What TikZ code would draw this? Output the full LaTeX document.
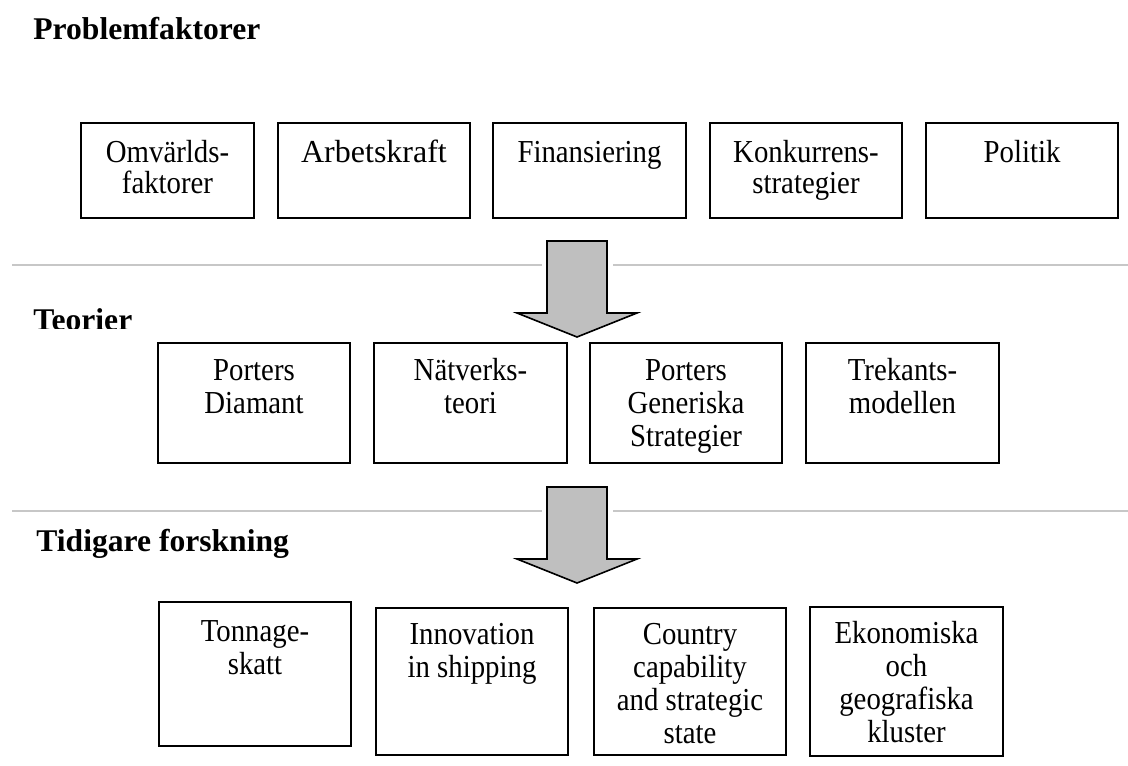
\documentclass[tikz,border=0pt]{standalone}
\usepackage{fontspec}
\setmainfont{Liberation Serif}
\newfontfamily\narrowserif{Liberation Serif}[FakeStretch=0.9]
\newcommand{\bt}[5]{\parbox[c][#2pt][t]{#1pt}{\centering\narrowserif\fontsize{16}{#4}\selectfont\rule{0pt}{#3pt}#5\par}}
\tikzset{
  box/.style={draw, line width=1pt, inner sep=0pt, anchor=north west},
  head/.style={font=\fontsize{15.8}{18}\selectfont\bfseries, inner sep=0pt, anchor=base west},
  sepline/.style={draw=black!22, line width=1pt},
  blockarrow/.style={fill=black!25, draw=black, line width=0.8pt, line join=miter},
}
\begin{document}
\begin{tikzpicture}[x=0.5pt,y=-0.5pt]
\useasboundingbox (0,0) rectangle (1128,765);

% headings
\node[head] (h1) at (33,40) {Problemfaktorer};
\begin{scope}
  \clip (0,290) rectangle (300,328.5);
  \node[head] (h2) at (33,330) {Teorier};
\end{scope}
\node[head] (h3) at (36,551) {Tidigare forskning};

% separator lines
\coordinate (s1a) at (12,265);   \coordinate (s1b) at (542,265);
\coordinate (s1c) at (613,265);  \coordinate (s1d) at (1128,265);
\coordinate (s2a) at (12,511);   \coordinate (s2b) at (542,511);
\coordinate (s2c) at (613,511);  \coordinate (s2d) at (1128,511);
\draw[sepline] (s1a) -- (s1b) (s1c) -- (s1d);
\draw[sepline] (s2a) -- (s2b) (s2c) -- (s2d);

% row 1
\node[box] (omv)  at (80,122)  {\bt{86.5}{47.5}{20}{15.5}{Omvärlds-\\faktorer}};
\node[box] (arb)  at (277,122) {\bt{96}{47.5}{20}{15.5}{\normalfont\fontsize{16}{17}\selectfont Arbetskraft}};
\node[box] (fin)  at (492,122) {\bt{96.5}{47.5}{19.5}{15.5}{Finansiering}};
\node[box] (konk) at (709,122) {\bt{96}{47.5}{19.5}{15.5}{Konkurrens-\\strategier}};
\node[box] (pol)  at (925,122) {\bt{96}{47.5}{19.5}{15.5}{Politik}};

% arrow 1
\draw[blockarrow] (547,241) -- (607,241) -- (607,313) -- (637,313) -- (577,337) -- (517,313) -- (547,313) -- cycle;

% row 2
\node[box] (pd) at (157,342) {\bt{96}{60}{18.5}{16.5}{Porters\\Diamant}};
\node[box] (nv) at (373,342) {\bt{96.5}{60}{18.5}{16.5}{Nätverks-\\teori}};
\node[box] (pg) at (589,342) {\bt{96}{60}{18.5}{16.5}{Porters\\Generiska\\Strategier}};
\node[box] (tk) at (805,342) {\bt{96.5}{60}{18.5}{16.5}{Trekants-\\modellen}};

% arrow 2
\draw[blockarrow] (547,487) -- (607,487) -- (607,559) -- (637,559) -- (577,583) -- (517,559) -- (547,559) -- cycle;

% row 3
\node[box] (ton) at (158,601) {\bt{96}{72}{19.5}{16.5}{Tonnage-\\skatt}};
\node[box] (inn) at (375,607) {\bt{96}{73.5}{18}{16.5}{Innovation\\in shipping}};
\node[box] (cc)  at (593,607) {\bt{96}{73.5}{18}{16.5}{Country\\capability\\and strategic\\state}};
\node[box] (eko) at (809,606) {\bt{96.5}{74.5}{18}{16.5}{Ekonomiska\\och\\geografiska\\kluster}};
\end{tikzpicture}
\end{document}
